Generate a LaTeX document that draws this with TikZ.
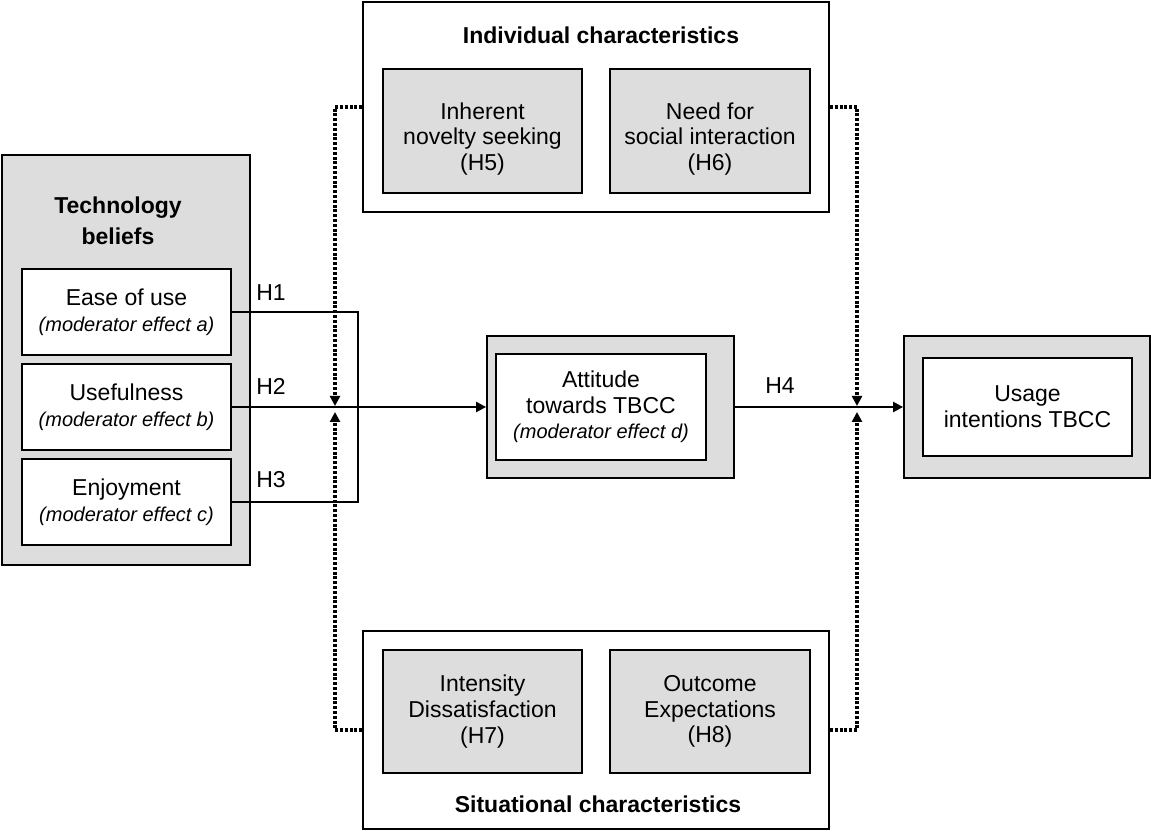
\documentclass[tikz,border=0pt]{standalone}
\usepackage{fontspec}
\setmainfont{Liberation Sans}
\usetikzlibrary{arrows.meta,positioning}
\definecolor{grisc}{RGB}{221,221,221}
\newcommand{\txt}{\fontsize{11.5}{12.8}\selectfont}
\newcommand{\mdf}[1]{{\fontsize{10}{12.8}\selectfont\itshape #1}}
\tikzset{
  marco/.style={draw=black, line width=0.9pt, fill=white, inner sep=0pt},
  gris/.style={marco, fill=grisc},
  caja/.style={draw=black, line width=0.75pt, fill=white, align=center, inner sep=0pt, font=\txt},
  var/.style={caja, fill=grisc},
  tit/.style={font=\txt\bfseries, align=center},
  hip/.style={font=\txt},
  et/.style={font=\txt, align=center},
  ln/.style={line width=1.1pt},
  fl/.style={-{Triangle[length=5pt,width=5pt]}, line width=1.1pt},
  mod/.style={-{Triangle[length=5pt,width=5pt]}, line width=1.6pt, dash pattern=on 1.5pt off 0.9pt},
}

\begin{document}
\begin{tikzpicture}[x=0.5pt, y=-0.5pt]
  \useasboundingbox (0,0) rectangle (1151,833);
  % technology beliefs
  \node[gris, minimum width=124pt, minimum height=205pt] (tb) at (126,360) {};
  \node[tit, font=\fontsize{11.5}{15.5}\selectfont\bfseries] (tbt) at (118,221) {Technology\\beliefs};
  \node[caja, minimum width=104.5pt, minimum height=43pt] (eou) at (126.5,312) {Ease of use\\ \mdf{(moderator effect a)}};
  \node[caja, minimum width=104.5pt, minimum height=43pt] (usf) at (126.5,407) {Usefulness\\ \mdf{(moderator effect b)}};
  \node[caja, minimum width=104.5pt, minimum height=43pt] (enj) at (126.5,502) {Enjoyment\\ \mdf{(moderator effect c)}};
  % attitude and intentions
  \node[gris, minimum width=123.5pt, minimum height=71pt] (att) at (610.5,407) {};
  \node[caja, minimum width=105pt, minimum height=53pt] (atti) at (601,407) {Attitude\\towards TBCC\\ \mdf{(moderator effect d)}};
  \node[gris, minimum width=123pt, minimum height=71pt] (ui) at (1027,407) {};
  \node[caja, minimum width=104.5pt, minimum height=49pt] (uii) at (1027.5,407) {Usage\\intentions TBCC};
  % individual characteristics
  \node[marco, minimum width=233pt, minimum height=105pt] (ind) at (596,107) {};
  \node[tit] (indt) at (601,35) {Individual characteristics};
  \node[var, minimum width=99.5pt, minimum height=62pt] (h5) at (482.5,131) {};
  \node[var, minimum width=100pt, minimum height=62pt] (h6) at (710,131) {};
  \node[et] (h5t) at ([yshift=-4pt]h5.center) {Inherent\\novelty seeking\\(H5)};
  \node[et] (h6t) at ([yshift=-4pt]h6.center) {Need for\\social interaction\\(H6)};
  % situational characteristics
  \node[marco, minimum width=233pt, minimum height=99pt] (sit) at (596,730) {};
  \node[tit] (sitt) at (598,804) {Situational characteristics};
  \node[var, minimum width=99.5pt, minimum height=61.5pt] (h7) at (482.5,711.5) {Intensity\\Dissatisfaction\\(H7)};
  \node[var, minimum width=100pt, minimum height=61.5pt] (h8) at (710,711.5) {Outcome\\Expectations\\(H8)};
  % paths
  \coordinate (jn) at (358,407);
  \draw[ln] (eou.east) -| (jn);
  \draw[ln] (enj.east) -| (jn);
  \draw[fl] (usf.east) -- (att.west);
  \draw[fl] (att.east) -- (ui.west);
  \node[hip] (lh1) at (271,293) {H1};
  \node[hip] (lh2) at (271,386) {H2};
  \node[hip] (lh3) at (271,480) {H3};
  \node[hip] (lh4) at (780,386) {H4};
  % moderators
  \coordinate (ma) at (335,406);
  \coordinate (mb) at (335,412);
  \coordinate (mc) at (857,406);
  \coordinate (md) at (857,412);
  \draw[mod] (ind.west) -| (ma);
  \draw[mod] (sit.west) -| (mb);
  \draw[mod] (ind.east) -| (mc);
  \draw[mod] (sit.east) -| (md);
\end{tikzpicture}
\end{document}
